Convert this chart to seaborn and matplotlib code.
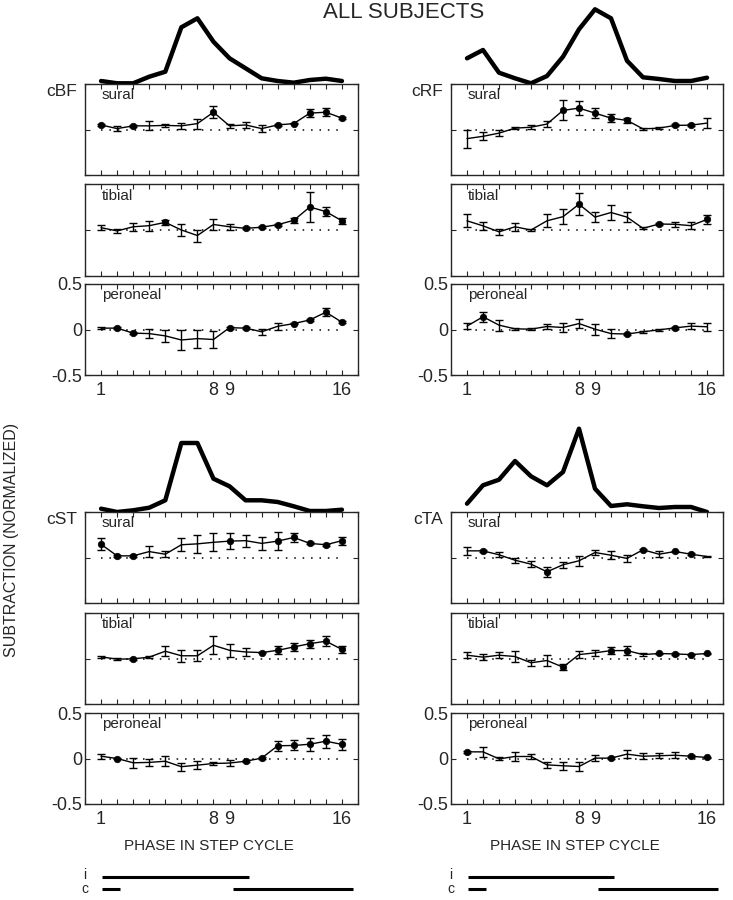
import matplotlib
matplotlib.use("Agg")
import matplotlib.pyplot as plt
import seaborn as sns

sns.set_style("ticks")
plt.rcParams['font.family'] = ['Liberation Sans', 'DejaVu Sans']

# phases of the step cycle
phase = list(range(1, 17))

# EMG envelopes drawn above each block (arbitrary amplitude units)
emg_cbf = [3, 0.7, 0.7, 7.3, 12.3, 56.7, 65.7, 42.3, 25.7, 15.7, 5.7, 3, 1.3, 4, 5.3, 3]
emg_crf = [25.7, 34, 11.3, 5.7, 0.7, 8, 27.3, 54.7, 74.7, 65.7, 23.3, 6.7, 5, 3, 3, 6.3]
emg_cst = [3.3, 0, 1.7, 4.3, 11.7, 69, 69, 33.3, 25.7, 11.7, 11.7, 10, 5.7, 1, 1, 2.3]
emg_cta = [8.3, 26.7, 32.3, 51, 35.7, 26.7, 40, 83.3, 23.3, 6, 7.7, 5.7, 4, 5, 5, 0]

# cBF
cbf_sural = [0.05, 0.01, 0.04, 0.04, 0.045, 0.04, 0.065, 0.19, 0.04, 0.05, 0.01, 0.05, 0.065, 0.18, 0.19, 0.125]
cbf_sural_err = [0.01, 0.03, 0.01, 0.05, 0.02, 0.035, 0.055, 0.065, 0.02, 0.03, 0.035, 0.01, 0.01, 0.045, 0.045, 0.01]
cbf_sural_dots = [1, 3, 8, 12, 13, 14, 15, 16]
cbf_tibial = [0.025, -0.01, 0.035, 0.047, 0.083, 0.0, -0.06, 0.06, 0.035, 0.018, 0.03, 0.058, 0.105, 0.25, 0.2, 0.1]
cbf_tibial_err = [0.03, 0.02, 0.045, 0.055, 0.03, 0.07, 0.065, 0.055, 0.03, 0.01, 0.01, 0.01, 0.03, 0.16, 0.045, 0.03]
cbf_tibial_dots = [5, 10, 11, 12, 13, 14, 15, 16]
cbf_peroneal = [0.015, 0.015, -0.04, -0.045, -0.07, -0.115, -0.1, -0.11, 0.02, 0.015, -0.025, 0.035, 0.065, 0.105, 0.19, 0.08]
cbf_peroneal_err = [0.01, 0.01, 0.01, 0.05, 0.065, 0.11, 0.1, 0.09, 0.01, 0.01, 0.03, 0.035, 0.01, 0.01, 0.045, 0.01]
cbf_peroneal_dots = [2, 3, 9, 10, 13, 14, 15, 16]

# cRF
crf_sural = [-0.1, -0.075, -0.04, 0.015, 0.025, 0.06, 0.21, 0.235, 0.18, 0.125, 0.1, 0.007, 0.015, 0.045, 0.048, 0.07]
crf_sural_err = [0.1, 0.045, 0.03, 0.01, 0.02, 0.035, 0.11, 0.075, 0.055, 0.045, 0.03, 0.01, 0.01, 0.01, 0.01, 0.055]
crf_sural_dots = [7, 8, 9, 10, 11, 14, 15]
crf_tibial = [0.1, 0.045, -0.02, 0.035, 0.0, 0.1, 0.145, 0.28, 0.14, 0.19, 0.14, 0.018, 0.065, 0.062, 0.047, 0.115]
crf_tibial_err = [0.07, 0.045, 0.03, 0.045, 0.01, 0.07, 0.08, 0.12, 0.055, 0.08, 0.055, 0.01, 0.01, 0.03, 0.035, 0.045]
crf_tibial_dots = [8, 13, 16]
crf_peroneal = [0.037, 0.14, 0.048, 0.007, 0.004, 0.033, 0.022, 0.065, 0.004, -0.045, -0.05, -0.025, -0.004, 0.018, 0.037, 0.03]
crf_peroneal_err = [0.035, 0.055, 0.06, 0.01, 0.01, 0.03, 0.045, 0.045, 0.06, 0.05, 0.01, 0.01, 0.01, 0.01, 0.03, 0.045]
crf_peroneal_dots = [2, 11, 14]

# cST
cst_sural = [0.145, 0.018, 0.018, 0.065, 0.036, 0.14, 0.15, 0.167, 0.18, 0.185, 0.155, 0.18, 0.22, 0.155, 0.14, 0.185]
cst_sural_err = [0.065, 0.01, 0.01, 0.06, 0.03, 0.07, 0.1, 0.1, 0.09, 0.065, 0.07, 0.1, 0.045, 0.01, 0.01, 0.045]
cst_sural_dots = [1, 2, 3, 9, 12, 13, 14, 15, 16]
cst_tibial = [0.018, -0.007, -0.004, 0.015, 0.08, 0.03, 0.03, 0.145, 0.09, 0.072, 0.065, 0.09, 0.127, 0.163, 0.19, 0.1]
cst_tibial_err = [0.01, 0.01, 0.01, 0.01, 0.055, 0.065, 0.06, 0.1, 0.07, 0.045, 0.01, 0.045, 0.045, 0.045, 0.055, 0.035]
cst_tibial_dots = [3, 11, 12, 13, 14, 15, 16]
cst_peroneal = [0.025, 0.0, -0.047, -0.043, -0.03, -0.09, -0.073, -0.055, -0.05, -0.03, 0.004, 0.14, 0.143, 0.157, 0.19, 0.155]
cst_peroneal_err = [0.025, 0.01, 0.055, 0.035, 0.055, 0.045, 0.045, 0.02, 0.035, 0.01, 0.01, 0.055, 0.055, 0.07, 0.07, 0.06]
cst_peroneal_dots = [2, 10, 11, 12, 13, 14, 15, 16]

# cTA
cta_sural = [0.073, 0.073, 0.03, -0.03, -0.073, -0.157, -0.08, -0.036, 0.055, 0.025, -0.01, 0.085, 0.036, 0.066, 0.036, 0.011]
cta_sural_err = [0.045, 0.01, 0.025, 0.03, 0.03, 0.055, 0.035, 0.055, 0.03, 0.045, 0.035, 0.01, 0.03, 0.01, 0.01, 0.01]
cta_sural_dots = [2, 6, 12, 14, 15]
cta_tibial = [0.036, 0.015, 0.036, 0.022, -0.047, -0.022, -0.095, 0.043, 0.062, 0.087, 0.087, 0.043, 0.055, 0.05, 0.043, 0.055]
cta_tibial_err = [0.03, 0.035, 0.03, 0.06, 0.03, 0.055, 0.03, 0.035, 0.035, 0.035, 0.045, 0.02, 0.01, 0.01, 0.01, 0.01]
cta_tibial_dots = [7, 10, 11, 13, 14, 15, 16]
cta_peroneal = [0.073, 0.073, -0.004, 0.022, 0.022, -0.07, -0.08, -0.088, 0.004, 0.004, 0.048, 0.025, 0.03, 0.036, 0.025, 0.011]
cta_peroneal_err = [0.01, 0.055, 0.015, 0.045, 0.03, 0.035, 0.045, 0.045, 0.035, 0.01, 0.045, 0.035, 0.025, 0.03, 0.01, 0.01]
cta_peroneal_dots = [1, 10, 15, 16]

# ipsi / contra stance bars under each column (phase units)
i_spans = [(1.05, 10.2)]
c_spans = [(1.05, 2.2), (9.2, 16.7)]

nerves = ['sural', 'tibial', 'peroneal']
blocks = [
    ('cBF', emg_cbf, [(cbf_sural, cbf_sural_err, cbf_sural_dots),
                      (cbf_tibial, cbf_tibial_err, cbf_tibial_dots),
                      (cbf_peroneal, cbf_peroneal_err, cbf_peroneal_dots)]),
    ('cRF', emg_crf, [(crf_sural, crf_sural_err, crf_sural_dots),
                      (crf_tibial, crf_tibial_err, crf_tibial_dots),
                      (crf_peroneal, crf_peroneal_err, crf_peroneal_dots)]),
    ('cST', emg_cst, [(cst_sural, cst_sural_err, cst_sural_dots),
                      (cst_tibial, cst_tibial_err, cst_tibial_dots),
                      (cst_peroneal, cst_peroneal_err, cst_peroneal_dots)]),
    ('cTA', emg_cta, [(cta_sural, cta_sural_err, cta_sural_dots),
                      (cta_tibial, cta_tibial_err, cta_tibial_dots),
                      (cta_peroneal, cta_peroneal_err, cta_peroneal_dots)]),
]

W, H = 733, 900
fig = plt.figure(figsize=(W / 100, H / 100), dpi=100)


def add_ax(x0, x1, y0, y1):
    return fig.add_axes([x0 / W, 1 - y1 / H, (x1 - x0) / W, (y1 - y0) / H])


cols = [(85, 358), (451, 723)]
rows = [[(84, 175), (184, 276), (284, 375)],
        [(512, 603), (613, 704), (713, 804)]]

for b, (muscle, emg, panels) in enumerate(blocks):
    x0, x1 = cols[b % 2]
    rr = rows[b // 2]

    # EMG envelope above the panels
    top = rr[0][0]
    ax_e = add_ax(x0, x1, top - 88, top)
    sns.lineplot(x=phase, y=emg, ax=ax_e, color='black', lw=3.2)
    for ln in ax_e.lines:
        ln.set_clip_on(False)
    ax_e.set_xlim(0, 17)
    ax_e.set_ylim(0, 88)
    ax_e.axis('off')

    fig.text((x0 - 8) / W, 1 - (top + 7) / H, muscle, ha='right', va='center', fontsize=12.5)

    for k, (mean, err, dots) in enumerate(panels):
        y0, y1 = rr[k]
        ax = add_ax(x0, x1, y0, y1)
        ax.hlines(0, 1, 16, colors='black', linestyles=(0, (1, 4.5)), lw=1.1)
        ax.errorbar(phase, mean, yerr=err, fmt='none', ecolor='black',
                    elinewidth=1, capsize=2.6, capthick=1)
        sns.lineplot(x=phase, y=mean, ax=ax, color='black', lw=1)
        sns.scatterplot(x=dots, y=[mean[p - 1] for p in dots], ax=ax,
                        color='black', s=22, edgecolor='black', linewidth=0.5, zorder=5)
        ax.set_xlim(0, 17)
        ax.set_ylim(-0.5, 0.5)
        ax.set_xticks(range(18))
        ax.set_yticks([-0.5, 0, 0.5])
        ax.tick_params(direction='in', top=True, right=True, length=3.5, width=0.8,
                       labelsize=13)
        ax.tick_params(axis='x', pad=5)
        ax.tick_params(axis='y', pad=2)
        for s in ax.spines.values():
            s.set_linewidth(1)
            s.set_visible(True)
        if k == 2:
            ax.set_xticklabels(['1' if t == 1 else '8' if t == 8 else '9' if t == 9 else '16' if t == 16 else ''
                                for t in range(18)])
            ax.set_yticklabels(['-0.5', '0', '0.5'])
            if b >= 2:
                ax.set_xlabel('PHASE IN STEP CYCLE', fontsize=11)
                ax.xaxis.set_label_coords(0.455, -0.385)
        else:
            ax.set_xticklabels([])
            ax.set_yticklabels([])
        ax.set_ylabel('')
        ax.text(1.05, 0.375, nerves[k], fontsize=11, va='center', ha='left')

# stance bars
for x0, x1 in cols:
    ax_s = add_ax(x0, x1, 871, 895)
    for a, bnd in i_spans:
        ax_s.hlines(1, a, bnd, colors='black', lw=2.2)
    for a, bnd in c_spans:
        ax_s.hlines(0, a, bnd, colors='black', lw=2.2)
    ax_s.text(0, 0.85, 'i', fontsize=10, ha='center', va='baseline')
    ax_s.text(0, -0.33, 'c', fontsize=10, ha='center', va='baseline')
    ax_s.set_xlim(0, 17)
    ax_s.set_ylim(-0.5, 1.5)
    ax_s.axis('off')

fig.text(404 / W, 1 - 12 / H, 'ALL SUBJECTS', ha='center', va='center', fontsize=16)
fig.text(12 / W, 1 - 540 / H, 'SUBTRACTION (NORMALIZED)', rotation=90,
         ha='center', va='center', fontsize=11.5)

fig.savefig('out.png', dpi=100)
